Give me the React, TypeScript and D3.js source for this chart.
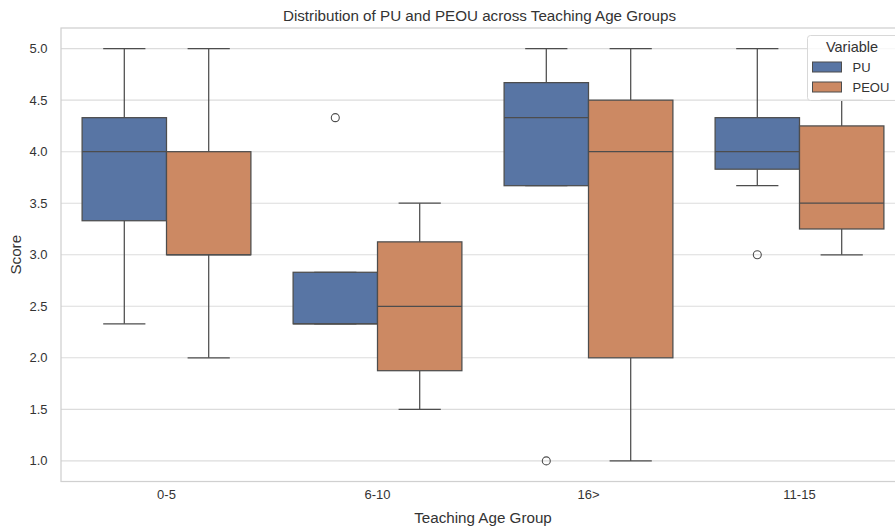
import React from "react";
import * as d3 from "d3";

const categories = ["0-5", "6-10", "16>", "11-15"];
const variables = ["PU", "PEOU"];
const colors = ["#5875a4", "#cc8963"];
// box stats per category: [whiskerLow, q1, median, q3, whiskerHigh]
const puStats = [
  [2.33, 3.33, 4.0, 4.33, 5.0],
  [2.33, 2.33, 2.33, 2.83, 2.83],
  [3.67, 3.67, 4.33, 4.67, 5.0],
  [3.67, 3.83, 4.0, 4.33, 5.0],
];
const peouStats = [
  [2.0, 3.0, 3.0, 4.0, 5.0],
  [1.5, 1.875, 2.5, 3.125, 3.5],
  [1.0, 2.0, 4.0, 4.5, 5.0],
  [3.0, 3.25, 3.5, 4.25, 4.5],
];
const puOutliers = [[], [4.33], [1.0], [3.0]];
const peouOutliers = [[], [], [], []];
const yTicks = [1.0, 1.5, 2.0, 2.5, 3.0, 3.5, 4.0, 4.5, 5.0];

const W = 895;
const H = 528;
const FONT = "'Liberation Sans', Arial, sans-serif";

export default function App() {
  const left = 61;
  const right = 905;
  const top = 28;
  const bottom = 481.5;
  const x = d3.scaleLinear().domain([-0.5, categories.length - 0.5]).range([left, right]);
  const y = d3.scaleLinear().domain([0.8, 5.2]).range([bottom, top]);
  const unit = x(1) - x(0);
  const boxW = 0.4 * unit;
  const allStats = [puStats, peouStats];
  const allOut = [puOutliers, peouOutliers];
  const edge = "#4d4d4d";

  return (
    <svg width={W} height={H} style={{ display: "block", position: "absolute", left: 0, top: 0 }} fontFamily={FONT}>
      <rect x={0} y={0} width={W} height={H} fill="#fff" />
      {/* grid */}
      {yTicks.map((t) => (
        <line key={"g" + t} x1={left} x2={right} y1={y(t)} y2={y(t)} stroke="#dcdcdc" strokeWidth={1.1} />
      ))}
      {/* spines */}
      <rect x={left} y={top} width={right - left} height={bottom - top} fill="none" stroke="#d0d0d0" strokeWidth={1.25} />
      {/* y ticks labels */}
      {yTicks.map((t) => (
        <text key={"yt" + t} x={left - 13.5} y={y(t)} dy="0.35em" textAnchor="end" fontSize={13} fill="#333">
          {d3.format(".1f")(t)}
        </text>
      ))}
      {categories.map((c, i) => (
        <text key={"xt" + c} x={x(i)} y={bottom + 17} textAnchor="middle" fontSize={13} fill="#333">
          {c}
        </text>
      ))}
      <text x={(left + right) / 2} y={522.5} textAnchor="middle" fontSize={15.2} fill="#333">
        Teaching Age Group
      </text>
      <text transform={`translate(20.5, ${(top + bottom) / 2}) rotate(-90)`} textAnchor="middle" fontSize={15.2} fill="#333">
        Score
      </text>
      <text x={(left + right) / 2 - 3.5} y={20.5} textAnchor="middle" fontSize={15.2} fill="#333">
        Distribution of PU and PEOU across Teaching Age Groups
      </text>
      {/* boxes */}
      {allStats.map((stats, vi) =>
        stats.map((s, ci) => {
          const x0 = x(ci) - boxW + vi * boxW;
          const cx = x0 + boxW / 2;
          const [wl, q1, med, q3, wh] = s;
          return (
            <g key={`b${vi}-${ci}`}>
              <line x1={cx} x2={cx} y1={y(wh)} y2={y(q3)} stroke={edge} strokeWidth={1.25} />
              <line x1={cx} x2={cx} y1={y(q1)} y2={y(wl)} stroke={edge} strokeWidth={1.25} />
              <line x1={cx - boxW / 4} x2={cx + boxW / 4} y1={y(wh)} y2={y(wh)} stroke={edge} strokeWidth={1.25} />
              <line x1={cx - boxW / 4} x2={cx + boxW / 4} y1={y(wl)} y2={y(wl)} stroke={edge} strokeWidth={1.25} />
              <rect x={x0} y={y(q3)} width={boxW} height={y(q1) - y(q3)} fill={colors[vi]} stroke={edge} strokeWidth={1.25} />
              <line x1={x0} x2={x0 + boxW} y1={y(med)} y2={y(med)} stroke={edge} strokeWidth={1.25} />
              {allOut[vi][ci].map((o, k) => (
                <circle key={k} cx={cx} cy={y(o)} r={4} fill="none" stroke={edge} strokeWidth={1.1} />
              ))}
            </g>
          );
        })
      )}
      {/* legend */}
      <g>
        <rect x={807.5} y={35.5} width={110} height={65} rx={3} fill="#fff" fillOpacity={0.8} stroke="#d8d8d8" strokeWidth={1} />
        <text x={852} y={51.5} textAnchor="middle" fontSize={14.5} fill="#333">Variable</text>
        {variables.map((v, i) => (
          <g key={v}>
            <rect x={812.5} y={62 + i * 20} width={29} height={10} fill={colors[i]} stroke={edge} strokeWidth={1} />
            <text x={852.5} y={67 + i * 20} dy="0.35em" fontSize={13} fill="#333">{v}</text>
          </g>
        ))}
      </g>
    </svg>
  );
}
